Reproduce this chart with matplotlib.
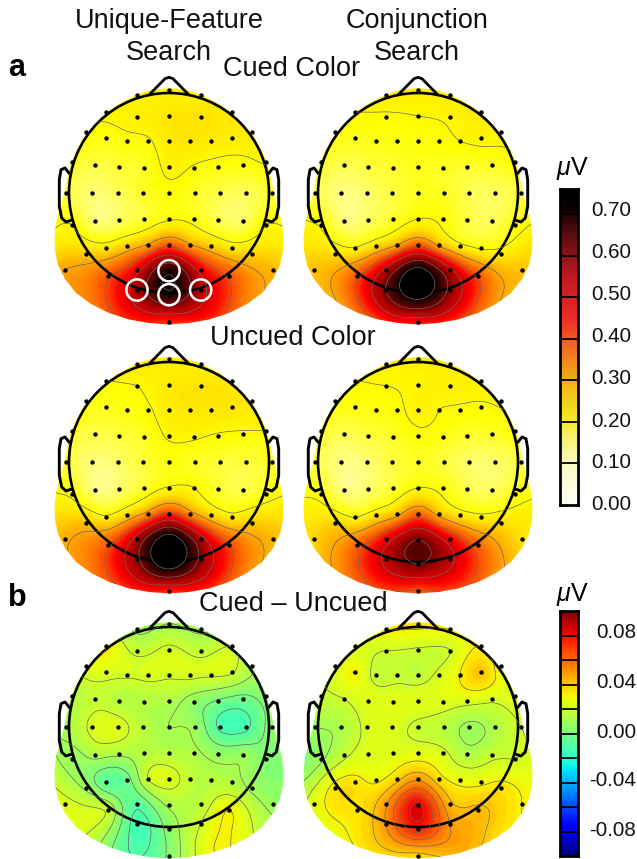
import numpy as np
import matplotlib
matplotlib.use("Agg")
import matplotlib.pyplot as plt
from matplotlib.colors import LinearSegmentedColormap, Normalize
from matplotlib.patches import Polygon, Circle

plt.rcParams["font.family"] = ["Liberation Sans", "DejaVu Sans"]
plt.rcParams["mathtext.fontset"] = "custom"
plt.rcParams["mathtext.it"] = "Liberation Sans:italic"
plt.rcParams["mathtext.rm"] = "Liberation Sans"

W, H = 637, 859

# electrode positions in head radii, top to bottom
sensor_x = [0,
            -.32, .32,
            -.63, .63,
            -.323, 0, .32,
            -.83, .827,
            -.63, -.423, -.21, 0, .21, .42, .63,
            -.973, .97,
            -.74, -.497, -.253, 0, .253, .493, .74,
            -1.027, -.77, -.513, -.257, 0, .257, .513, .77, 1.027,
            -.74, -.497, -.253, 0, .253, .493, .74,
            -.973, .97,
            -.63, -.423, -.21, 0, .21, .42, .63,
            -.83, .827,
            -1.04, -.323, 0, .32, 1.037,
            -.607, .603,
            -.32, .317,
            0,
            0]
sensor_y = [1.033,
            .977, .977,
            .807, .807,
            .763, .77, .763,
            .607, .607,
            .55, .52, .52, .517, .52, .52, .55,
            .31, .31,
            .283, .26, .25, .257, .25, .26, .283,
            0, 0, 0, 0, 0, 0, 0, 0, 0,
            -.283, -.267, -.257, -.26, -.257, -.267, -.283,
            -.317, -.317,
            -.553, -.527, -.523, -.52, -.523, -.527, -.553,
            -.607, -.607,
            -.767, -.767, -.777, -.767, -.767,
            -.833, -.833,
            -.97, -.97,
            -1.017,
            -1.29]

# places on the rim with no electrode, where the colour was read as well
rim_x = [-.8, -.45, .45, .8, -1.13, 1.13]
rim_y = [-1.05, -1.22, -1.22, -1.05, -.45, -.45]

cued_unique = [.21,
               .21, .22,
               .205, .225,
               .215, .23, .235,
               .195, .225,
               .185, .19, .195, .225, .23, .225, .22,
               .17, .205,
               .15, .16, .17, .21, .195, .185, .185,
               .15, .125, .14, .17, .19, .17, .15, .14, .16,
               .12, .135, .16, .195, .185, .145, .135,
               .20, .20,
               .23, .26, .31, .38, .31, .26, .23,
               .26, .25,
               .30, .47, .68, .47, .28,
               .39, .39,
               .54, .53,
               .68,
               .42]
cued_unique_rim = [.34, .43, .43, .33, .21, .21]
cued_conj = [.22,
             .22, .225,
             .20, .225,
             .195, .20, .205,
             .185, .21,
             .175, .18, .18, .185, .19, .20, .21,
             .165, .19,
             .145, .155, .165, .175, .17, .165, .175,
             .15, .115, .13, .155, .175, .17, .145, .135, .16,
             .12, .135, .165, .20, .19, .155, .14,
             .195, .18,
             .205, .24, .30, .38, .29, .215, .195,
             .24, .22,
             .27, .52, .74, .52, .27,
             .39, .39,
             .60, .58,
             .74,
             .45]
cued_conj_rim = [.31, .42, .42, .31, .22, .22]
uncued_unique = [.215,
                 .225, .215,
                 .20, .225,
                 .20, .225, .235,
                 .19, .225,
                 .175, .185, .195, .22, .23, .23, .23,
                 .165, .20,
                 .15, .155, .17, .205, .205, .195, .195,
                 .155, .12, .13, .16, .18, .17, .16, .155, .17,
                 .115, .13, .165, .205, .20, .165, .15,
                 .19, .18,
                 .21, .25, .33, .42, .33, .25, .22,
                 .27, .26,
                 .29, .53, .76, .53, .28,
                 .39, .40,
                 .58, .58,
                 .75,
                 .43]
uncued_unique_rim = [.34, .43, .43, .33, .22, .22]
uncued_conj = [.215,
               .215, .22,
               .20, .215,
               .20, .205, .215,
               .19, .205,
               .18, .185, .19, .215, .20, .195, .195,
               .165, .185,
               .145, .155, .165, .19, .18, .165, .17,
               .15, .115, .125, .155, .17, .155, .13, .13, .155,
               .115, .13, .16, .20, .185, .15, .135,
               .185, .175,
               .20, .23, .28, .37, .28, .225, .215,
               .25, .24,
               .25, .46, .60, .46, .24,
               .37, .37,
               .52, .52,
               .60,
               .39]
uncued_conj_rim = [.32, .41, .41, .32, .21, .21]
diff_unique = [.01,
               .008, .008,
               .03, .02,
               .018, .022, .017,
               .025, .012,
               .023, .021, .022, .021, .022, .021, .021,
               .012, .004,
               .018, .014, .013, .013, .005, -.001, -.003,
               .012, .022, .024, .015, .010, .008, -.012, -.012, .004,
               .013, .012, .014, .014, .012, .006, .008,
               .006, .002,
               -.007, -.004, .02, .023, .017, .014, .013,
               .008, .008,
               .023, -.008, .012, .015, .007,
               .018, .03,
               -.014, .02,
               .004,
               .002]
diff_unique_rim = [.02, -.008, .03, .022, .015, .003]
diff_conj = [.033,
             .03, .03,
             .022, .03,
             .02, .019, .02,
             .022, .025,
             .03, .017, .018, .016, .022, .03, .04,
             .018, .024,
             .02, .024, .025, .025, .024, .023, .022,
             .01, .012, .022, .023, .018, .015, .008, .013, .02,
             .018, .024, .024, .025, .022, .013, .018,
             .008, .02,
             .033, .028, .037, .048, .034, .027, .028,
             .033, .033,
             .025, .048, .082, .042, .03,
             .033, .042,
             .05, .05,
             .075,
             .036]
diff_conj_rim = [.028, .036, .045, .035, .006, .025]

# pixel centres of the heads
head_centers = {"a1": (169, 193), "a2": (418, 193),
                "a3": (169, 462), "a4": (418, 462),
                "b1": (169, 727), "b2": (418, 727)}
head_px = 100

# outline of the coloured field (right half, mirrored below)
edge_x = [0, .16, .32, .5, .63, .75, .85, .93, .98, 1.02, 1.05, 1.09, 1.13, 1.145,
          1.14, 1.11, 1.04, .93, .78, .6, .4, .2, 0]
edge_y = [1.05, 1.035, .985, .89, .80, .68, .56, .42, .3, .15, 0, -.15, -.3, -.45,
          -.58, -.72, -.86, -1.0, -1.11, -1.2, -1.265, -1.30, -1.315]
nose_x = [-.19, -.04, 0, .04, .19]
nose_y = [.99, 1.143, 1.157, 1.143, .99]
ear_x = [1.0, 1.04, 1.08, 1.097, 1.097, 1.073, 1.03, .98]
ear_y = [.2, .25, .233, .133, -.133, -.25, -.29, -.273]
marked_x = [-.32, 0, 0, .317]
marked_y = [-.97, -.777, -1.017, -.97]

hot_vals = [0, .1, .19, .23, .3, .4, .45, .55, .65, .72, .76]
hot_cols = ["#ffffff", "#ffff96", "#ffff00", "#ffe800", "#ffa500", "#ff4600",
            "#ff0000", "#aa0000", "#3c0000", "#000000", "#000000"]
bar_vals = [0, .1, .17, .2, .3, .4, .45, .55, .65, .72, .76]
bar_cols = ["#fffff5", "#fdf8c0", "#f8f060", "#f5ee20", "#f3b019", "#f15a24",
            "#ee2a28", "#c01a20", "#5a0d12", "#0a0202", "#000000"]
hot_max = 0.76
hot_map = LinearSegmentedColormap.from_list(
    "eeg", [(v / hot_max, c) for v, c in zip(hot_vals, hot_cols)], N=128)
hot_bar = LinearSegmentedColormap.from_list(
    "eegbar", [(v / hot_max, c) for v, c in zip(bar_vals, bar_cols)], N=256)
jet64 = plt.get_cmap("jet", 64)

sx = np.array(sensor_x, float)
sy = np.array(sensor_y, float)
fit_x = np.r_[sx, rim_x]
fit_y = np.r_[sy, rim_y]


def spline_field(vals, gx, gy):
    # thin plate spline through the read values
    pts = np.c_[fit_x, fit_y]
    d = np.hypot(*(pts[:, None] - pts[None]).transpose(2, 0, 1))
    K = np.where(d > 0, d**2 * np.log(d + 1e-12), 0) + 1e-4 * np.eye(len(fit_x))
    P = np.c_[np.ones(len(fit_x)), fit_x, fit_y]
    A = np.block([[K, P], [P.T, np.zeros((3, 3))]])
    w = np.linalg.solve(A, np.r_[vals, 0, 0, 0])
    r = np.hypot(gx[..., None] - fit_x, gy[..., None] - fit_y)
    U = np.where(r > 0, r**2 * np.log(r + 1e-12), 0)
    return U @ w[:-3] + w[-3] + w[-2] * gx + w[-1] * gy


def draw_head(fig, key, vals, rim, cmap, norm, levels, marked=False):
    cx, cy = head_centers[key]
    span = 1.45
    ax = fig.add_axes([(cx - span * head_px) / W, 1 - (cy + span * head_px) / H,
                       2 * span * head_px / W, 2 * span * head_px / H])
    ax.patch.set_alpha(0)
    ax.set_xlim(-span, span)
    ax.set_ylim(-span, span)
    ax.axis("off")

    gx, gy = np.meshgrid(np.linspace(-1.2, 1.2, 280), np.linspace(-1.35, 1.1, 280))
    field = spline_field(np.r_[vals, rim], gx, gy)
    outline = Polygon(np.r_[np.c_[edge_x, edge_y], np.c_[-np.array(edge_x), edge_y][::-1]],
                      closed=True, fc="none", ec="none", transform=ax.transData)
    ax.add_patch(outline)
    im = ax.imshow(field, extent=(-1.2, 1.2, -1.35, 1.1), origin="lower", cmap=cmap,
                   norm=norm, interpolation="bilinear", aspect="equal")
    im.set_clip_path(outline)
    cs = ax.contour(gx, gy, field, levels=levels, colors="#666666", linewidths=0.5,
                    linestyles="solid")
    cs.set_clip_path(outline)

    ax.add_patch(Circle((0, 0), 1.0, fc="none", ec="black", lw=1.9))
    ax.plot(nose_x, nose_y, color="black", lw=2.0, solid_joinstyle="round")
    ax.plot(ear_x, ear_y, color="black", lw=2.1, solid_joinstyle="round")
    ax.plot(-np.array(ear_x), ear_y, color="black", lw=2.1, solid_joinstyle="round")
    ax.scatter(sx, sy, s=10, color="black", linewidths=0, zorder=5)
    if marked:
        ax.scatter(marked_x, marked_y, s=235, facecolors="none", edgecolors="white",
                   linewidths=1.8, zorder=6)
    ax.set_xlim(-span, span)
    ax.set_ylim(-span, span)


def draw_bar(fig, x0, x1, y0, y1, cmap, vmin, vmax, seps, labels, tick_px, right):
    ax = fig.add_axes([x0 / W, 1 - y1 / H, (x1 - x0) / W, (y1 - y0) / H])
    grad = np.linspace(vmin, vmax, 256)[:, None]
    ax.imshow(grad, extent=(0, 1, vmin, vmax), origin="lower", aspect="auto", cmap=cmap)
    for s in seps:
        ax.axhline(s, color="black", lw=1.3)
    ax.set_xticks([])
    ax.set_yticks([])
    for sp in ax.spines.values():
        sp.set_linewidth(2.0)
    for lab, py in zip(labels, tick_px):
        fig.text(right / W, 1 - py / H, lab, fontsize=14.8, ha="right", va="center",
                 color="#111111")


fig = plt.figure(figsize=(W / 100, H / 100), dpi=100)

hot_norm = Normalize(0, hot_max)
jet_norm = Normalize(-0.1, 0.1)
hot_levels = np.arange(0.1, 0.75, 0.1)
jet_levels = np.arange(-0.09, 0.1, 0.01)

draw_head(fig, "a1", cued_unique, cued_unique_rim, hot_map, hot_norm, hot_levels, marked=True)
draw_head(fig, "a2", cued_conj, cued_conj_rim, hot_map, hot_norm, hot_levels)
draw_head(fig, "a3", uncued_unique, uncued_unique_rim, hot_map, hot_norm, hot_levels)
draw_head(fig, "a4", uncued_conj, uncued_conj_rim, hot_map, hot_norm, hot_levels)
draw_head(fig, "b1", diff_unique, diff_unique_rim, jet64, jet_norm, jet_levels)
draw_head(fig, "b2", diff_conj, diff_conj_rim, jet64, jet_norm, jet_levels)

hot_ticks = [0.70, 0.60, 0.50, 0.40, 0.30, 0.20, 0.10]
hot_labels = ["0.70", "0.60", "0.50", "0.40", "0.30", "0.20", "0.10", "0.00"]
hot_tick_px = [211, 253, 295, 337, 378, 421, 463, 505]
jet_labels = ["0.08", "0.04", "0.00", "-0.04", "-0.08"]
jet_tick_px = [633, 683, 733, 780, 831]

draw_bar(fig, 560, 578, 189, 505, hot_bar, 0, hot_max, hot_ticks,
         hot_labels, hot_tick_px, 631)
draw_bar(fig, 560, 578, 611, 856, "jet", -0.1, 0.1, np.arange(-0.08, 0.09, 0.02),
         jet_labels, jet_tick_px, 636)

titles = [("Unique-Feature", 169, 21), ("Search", 169, 53),
          ("Conjunction", 417, 21), ("Search", 417, 53),
          ("Cued Color", 292, 69), ("Uncued Color", 293, 338), ("Cued – Uncued", 293, 604)]
for s, x, y in titles:
    fig.text(x / W, 1 - y / H, s, fontsize=19.5, ha="center", va="center", color="#111111")
fig.text(17 / W, 1 - 68 / H, "a", fontsize=22, fontweight="bold", ha="center", va="center")
fig.text(17 / W, 1 - 598 / H, "b", fontsize=22, fontweight="bold", ha="center", va="center")
fig.text(572 / W, 1 - 169 / H, r"$\mathit{\mu}$V", fontsize=18, ha="center", va="center")
fig.text(572 / W, 1 - 595 / H, r"$\mathit{\mu}$V", fontsize=18, ha="center", va="center")

fig.savefig("out.png", dpi=100)
